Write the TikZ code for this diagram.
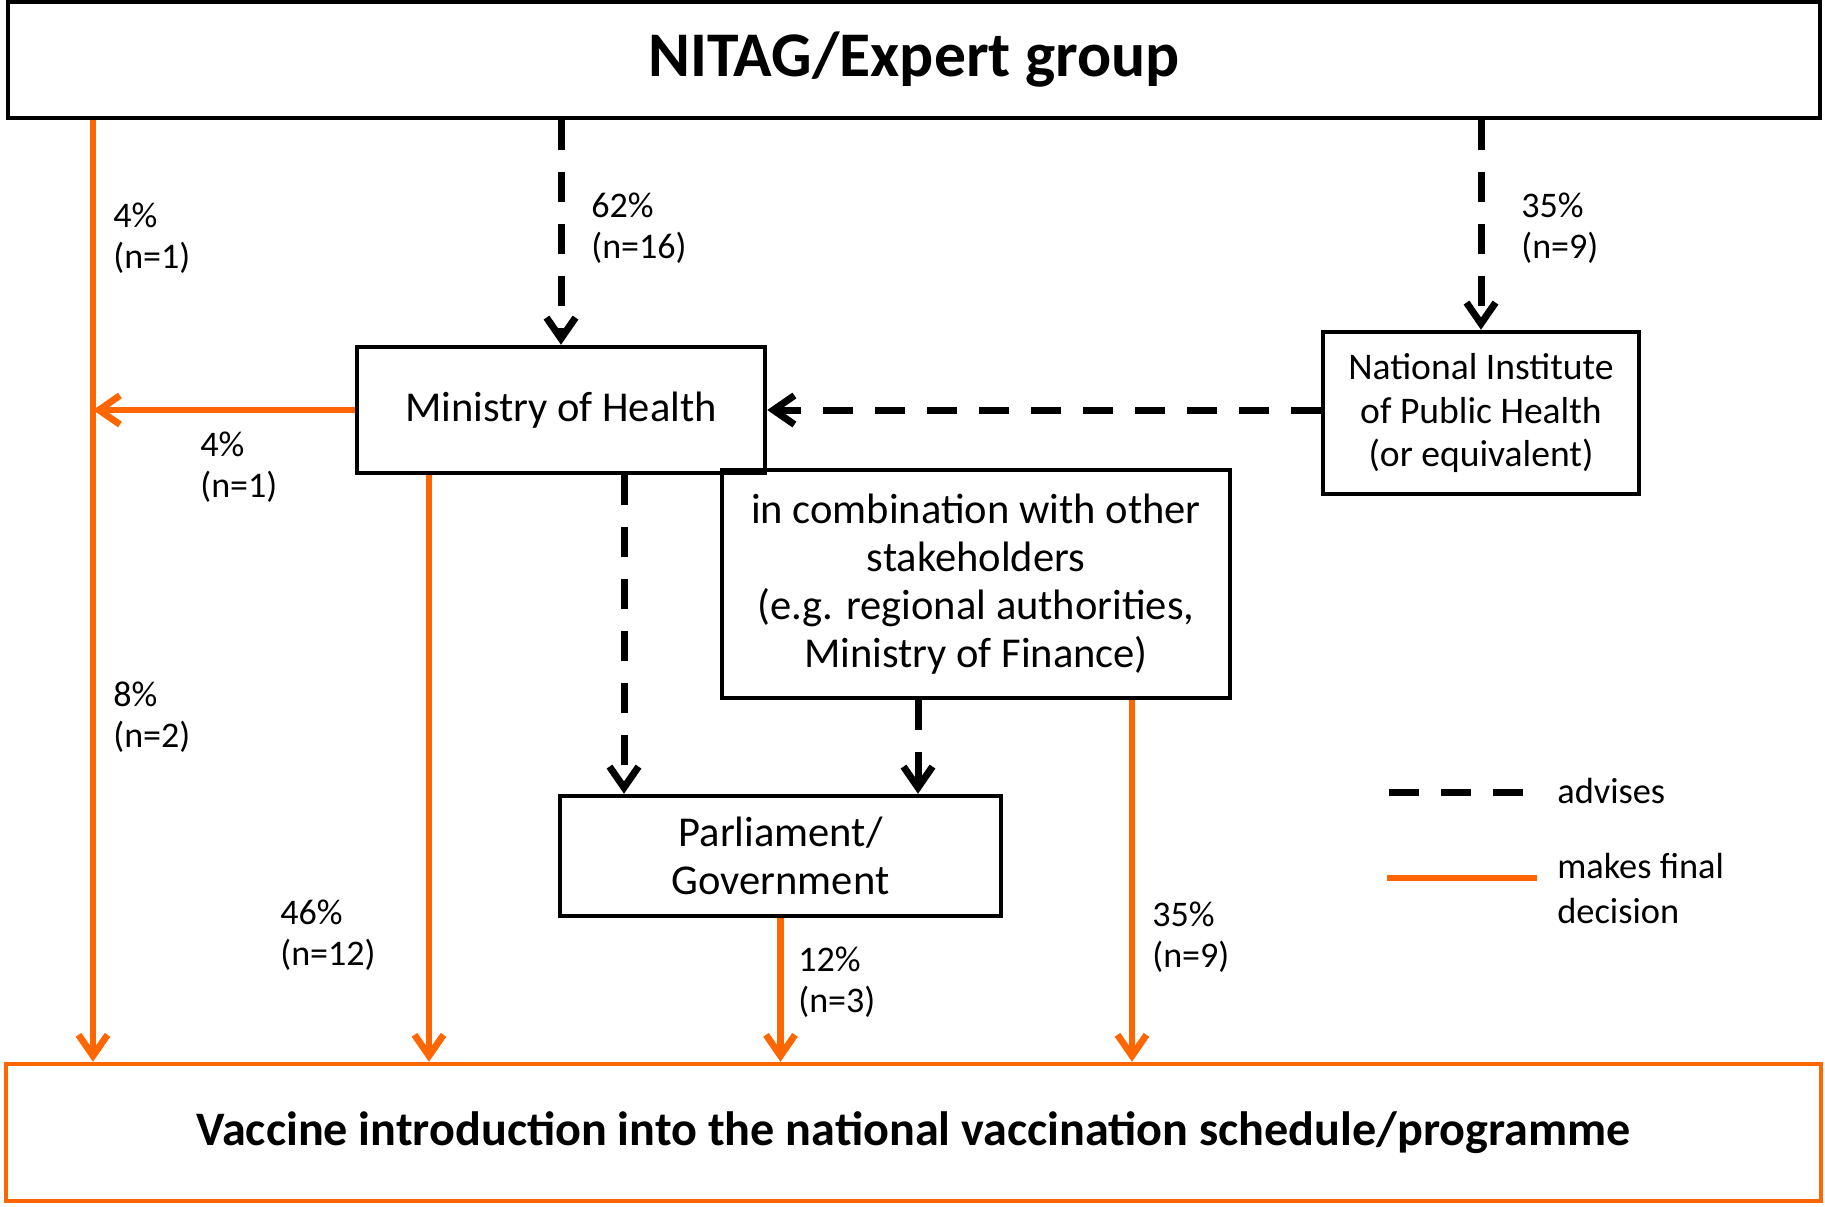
\documentclass[tikz,border=0pt]{standalone}
\usepackage{fontspec}
\setmainfont{Carlito}
\usetikzlibrary{arrows.meta}
\definecolor{decisionorange}{RGB}{255,102,0}

\begin{document}
\begin{tikzpicture}[%
% common options for the boxes:
box/.style = {draw, line width=0.09cm, align=center, inner sep=0,
            font=\fontsize{24.2}{27.4}\selectfont},
% common options for the shares:
share/.style = {align=left, anchor=west, inner sep=0,
            font=\fontsize{20.5}{23.5}\selectfont},
% common options for the connectors:
advise/.style = {line width=0.14cm, dash pattern=on 0.6cm off 0.44cm,
            -{Straight Barb[length=0.42cm,width=0.58cm]}},
decide/.style = {draw=decisionorange, line width=0.135cm,
            -{Straight Barb[length=0.42cm,width=0.58cm]}}]
\useasboundingbox (0,0) rectangle (36.5,-24.12);
\node[box,minimum width=36.24cm,minimum height=2.32cm,
      font=\fontsize{36.2}{40}\selectfont\bfseries] (N0) at (18.28,-1.2) {NITAG/Expert group};
\node[box,minimum width=8.16cm,minimum height=2.52cm] (M1) at (11.22,-8.2) {Ministry of Health};
\node[box,minimum width=6.32cm,minimum height=3.24cm,
      font=\fontsize{21.4}{25}\selectfont] (I1) at (29.62,-8.26)
      {National Institute\\of Public Health\\(or equivalent)};
\node[box,minimum width=10.16cm,minimum height=4.56cm] (C1) at (19.52,-11.68)
      {in combination with other\\stakeholders\\(e.g. regional authorities,\\Ministry of Finance)};
\node[box,minimum width=8.82cm,minimum height=2.4cm] (P1) at (15.61,-17.12) {Parliament/\\Government};
\node[box,draw=decisionorange,minimum width=36.3cm,minimum height=2.74cm,
      font=\fontsize{27.4}{30}\selectfont\bfseries] (V0) at (18.27,-22.65)
      {Vaccine introduction into the national vaccination schedule/programme};
% shares
\node[share] (S1) at (2.26,-4.76) {4\%\\(n=1)};
\node[share] (S2) at (11.82,-4.56) {62\%\\(n=16)};
\node[share] (S3) at (30.42,-4.56) {35\%\\(n=9)};
\node[share] (S4) at (4.0,-9.34) {4\%\\(n=1)};
\node[share] (S5) at (2.26,-14.34) {8\%\\(n=2)};
\node[share] (S6) at (5.6,-18.7) {46\%\\(n=12)};
\node[share] (S7) at (15.96,-19.64) {12\%\\(n=3)};
\node[share] (S8) at (23.04,-18.74) {35\%\\(n=9)};
% x positions of the lines
\coordinate (xL) at (1.86,0);
\coordinate (xM) at (8.58,0);
\coordinate (xMP) at (12.48,0);
\coordinate (xCP) at (18.36,0);
\coordinate (xC) at (22.64,0);
\draw[advise] (M1.north |- N0.south) to (M1.north);
\draw[advise] (I1.north |- N0.south) to (I1.north);
\draw[advise] (I1.west |- M1.east) to (M1.east);
\draw[advise] (xMP |- M1.south) to (xMP |- P1.north);
\draw[advise] (xCP |- C1.south) to (xCP |- P1.north);
\draw[decide] (xL |- N0.south) to (xL |- V0.north);
\draw[decide] (M1.west) to (M1.west -| xL);
\draw[decide] (xM |- M1.south) to (xM |- V0.north);
\draw[decide] (P1.south) to (P1.south |- V0.north);
\draw[decide] (xC |- C1.south) to (xC |- V0.north);
% legend
\node[share,font=\fontsize{20.7}{25.6}\selectfont] (L1) at (31.14,-15.82) {advises};
\node[share,font=\fontsize{20.7}{25.6}\selectfont] (L2) at (31.14,-17.76) {makes final\\decision};
\coordinate (La) at (27.78,-15.84);
\coordinate (Lb) at (30.46,-15.84);
\coordinate (Lc) at (27.74,-17.56);
\coordinate (Ld) at (30.74,-17.56);
\draw[advise,-] (La) to (Lb);
\draw[decide,-] (Lc) to (Ld);
\end{tikzpicture}
\end{document}
